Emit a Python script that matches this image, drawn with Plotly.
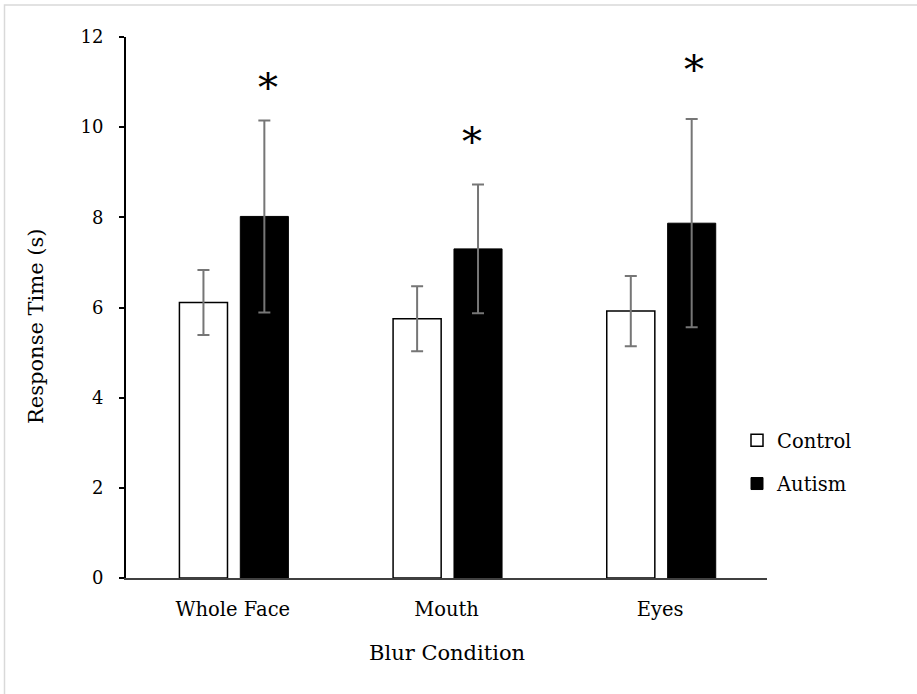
import plotly.graph_objects as go

categories = ["Whole Face", "Mouth", "Eyes"]
control_mean = [6.11, 5.75, 5.92]
control_err = [0.72, 0.72, 0.78]
autism_mean = [8.02, 7.30, 7.87]
autism_err = [2.13, 1.43, 2.31]
star_y = [11.0, 9.8, 11.4]
star_shift = [4, -6, 2]
y_ticks = [0, 2, 4, 6, 8, 10, 12]

FONT = "DejaVu Serif"
W, H = 917, 694
L, R, T, B = 126, 150, 37, 116
pw, ph = W - L - R, H - T - B

def px_x(p):
    return (p - L) / pw

def px_y(p):
    return (H - B - p) / ph

fig = go.Figure()
fig.add_trace(go.Bar(
    x=categories, y=control_mean, name="Control",
    width=0.225, offset=-0.25,
    marker=dict(color="white", line=dict(color="black", width=1.5)),
    error_y=dict(type="data", array=control_err, color="#767676", thickness=2, width=6),
    legendgroup="a",
))
fig.add_trace(go.Bar(
    x=categories, y=autism_mean, name="Autism",
    width=0.225, offset=0.035,
    marker=dict(color="black", line=dict(color="black", width=1)),
    error_y=dict(type="data", array=autism_err, color="#767676", thickness=2, width=6),
    legendgroup="b",
))

annotations = []
for c, sy, sh in zip(categories, star_y, star_shift):
    annotations.append(dict(
        x=c, y=sy, xref="x", yref="y", text="*", showarrow=False,
        xshift=0.1475 * pw / 3 + sh, yshift=-5,
        font=dict(family=FONT, size=40, color="black"),
        xanchor="center", yanchor="middle",
    ))
annotations.append(dict(
    x=px_x(36), y=px_y(327), xref="paper", yref="paper", text="Response Time (s)",
    showarrow=False, textangle=-90, font=dict(family=FONT, size=21, color="black"),
    xanchor="center", yanchor="middle",
))
annotations.append(dict(
    x=0.5, y=px_y(653), xref="paper", yref="paper", text="Blur Condition",
    showarrow=False, font=dict(family=FONT, size=21, color="black"),
    xanchor="center", yanchor="middle",
))

fig.update_layout(
    width=W, height=H,
    margin=dict(l=L, r=R, t=T, b=B),
    paper_bgcolor="white", plot_bgcolor="white",
    font=dict(family=FONT, color="black"),
    barmode="group",
    showlegend=True,
    legend=dict(
        x=px_x(737), y=px_y(421), xanchor="left", yanchor="top",
        traceorder="grouped", tracegroupgap=15,
        font=dict(family=FONT, size=19.5, color="black"),
        bgcolor="rgba(0,0,0,0)",
    ),
    xaxis=dict(
        showline=True, linecolor="#404040", linewidth=2,
        ticks="", showgrid=False, zeroline=False,
        tickfont=dict(family=FONT, size=19.5, color="black"),
        ticklabelstandoff=13,
        range=[-0.5, 2.5],
    ),
    yaxis=dict(
        range=[0, 12], tickvals=y_ticks,
        showline=True, linecolor="black", linewidth=2,
        ticks="outside", ticklen=5, tickwidth=2, tickcolor="black",
        showgrid=False, zeroline=False,
        tickfont=dict(family=FONT, size=18, color="black"),
        ticklabelstandoff=12,
    ),
    annotations=annotations,
    shapes=[dict(
        type="rect", xref="paper", yref="paper",
        x0=px_x(4.5), x1=px_x(1000), y0=px_y(1000), y1=px_y(5),
        line=dict(color="#d9d9d9", width=1.5), fillcolor="rgba(0,0,0,0)", layer="below",
    )],
)

fig.write_html("out.html")
